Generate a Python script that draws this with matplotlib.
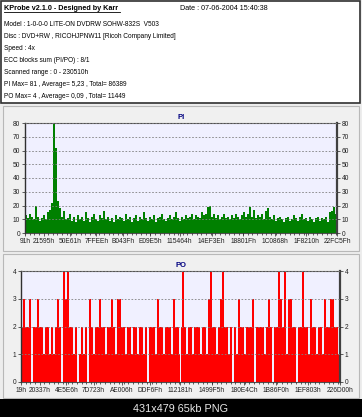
import numpy as np
import matplotlib.pyplot as plt
from matplotlib.patches import Rectangle
from matplotlib.lines import Line2D
from matplotlib.ticker import AutoMinorLocator

# header text
title = "KProbe v2.1.0 - Designed by Karr"
date_txt = "Date : 07-06-2004 15:40:38"
info_lines = [
    "Model : 1-0-0-0 LITE-ON DVDRW SOHW-832S  V503",
    "Disc : DVD+RW , RICOHJPNW11 [Ricoh Company Limited]",
    "Speed : 4x",
    "ECC blocks sum (PI/PO) : 8/1",
    "Scanned range : 0 - 230510h",
    "PI Max= 81 , Average= 5,23 , Total= 86389",
    "PO Max= 4 , Average= 0,09 , Total= 11449",
]
footer = "431x479 65kb PNG"

# PI chart
pi_ticks = ["91h", "21595h", "50E61h", "7FFEEh", "B043Fh", "E09E5h", "115464h",
            "14EF3Eh", "18801Fh", "1C0868h", "1F8210h", "22FC5Fh"]
pi_vals = [13, 11, 14, 12, 10, 20, 12, 9, 11, 13, 10, 15, 17, 22, 81, 62, 23,
           18, 12, 16, 10,
           11, 14, 9, 12, 8, 13, 10, 12, 9, 15, 11, 8, 12, 14, 10, 9, 13, 11, 16, 10,
           12, 9, 11, 8, 13, 10, 12, 11, 9, 14, 10, 12, 8, 11, 13, 9, 12, 10, 15, 11,
           9, 12, 10, 13, 8, 11, 12, 14, 10, 9, 11, 13, 10, 12, 15, 11, 9, 12, 10, 13,
           11, 12, 14, 10, 13, 12, 11, 15, 13, 14, 19, 20, 12, 14, 11, 13, 10, 12, 14, 11,
           12, 10, 13, 11, 14, 12, 10, 13, 15, 12, 14, 19, 12, 17, 11, 13, 12, 14, 10, 16,
           18, 12, 10, 13, 9, 11, 12, 10, 8, 11, 12, 9, 10, 13, 11, 9, 12, 14, 10, 11,
           9, 12, 10, 8, 11, 12, 9, 11, 10, 12, 8, 15, 16, 19, 14]

# PO chart
po_ticks = ["19h", "20337h", "4E5E6h", "7D723h", "AE006h", "DDF6Fh", "112181h",
            "1499F5h", "180E4Ch", "1B86F0h", "1EF803h", "226D00h"]
po_vals = [2, 3, 2, 2, 3, 0, 2, 2, 3, 2, 2, 1, 2, 2, 1, 2, 1, 2, 3, 2,
           0, 4, 3, 4, 2, 2, 1, 2, 0, 1, 2, 1, 2, 0, 3, 2, 1, 2, 2, 3,
           2, 2, 1, 2, 2, 3, 2, 1, 3, 3, 2, 2, 1, 2, 2, 1, 2, 2, 1, 2,
           2, 1, 2, 0, 2, 2, 2, 1, 3, 2, 2, 1, 2, 2, 2, 1, 3, 2, 2, 1,
           2, 4, 2, 1, 2, 2, 1, 2, 2, 2, 1, 2, 2, 1, 3, 4, 2, 2, 1, 2,
           3, 4, 2, 2, 1, 2, 0, 2, 1, 3, 2, 2, 1, 2, 2, 2, 3, 0, 2, 2,
           2, 2, 1, 2, 3, 2, 0, 2, 2, 4, 3, 2, 4, 1, 3, 3, 2, 2, 0, 2,
           2, 4, 2, 2, 1, 3, 2, 2, 1, 2, 2, 1, 3, 2, 2, 3, 3, 2, 2, 1]

W, H = 362, 417
FONT = "Liberation Sans"

def fx(px):
    return px / W

def fy(py):
    return 1 - py / H

fig = plt.figure(figsize=(W / 100, H / 100), dpi=100)
fig.patch.set_facecolor("#EDEDED")

# header box
fig.add_artist(Rectangle((fx(1), fy(103)), fx(359), 102 / H, transform=fig.transFigure,
                         facecolor="white", edgecolor="#303030", linewidth=1.2, zorder=-2))
fig.text(fx(4), fy(8), title, fontsize=5.2, fontweight="bold", family=FONT,
         va="center", ha="left")
fig.add_artist(Line2D([fx(4), fx(120)], [fy(12), fy(12)], transform=fig.transFigure,
                      color="black", linewidth=0.6))
fig.text(fx(180), fy(8), date_txt, fontsize=5.1, family=FONT, va="center", ha="left")
for i, line in enumerate(info_lines):
    fig.text(fx(4), fy(25 + 12 * i), line, fontsize=4.7, family=FONT, va="center", ha="left")

# panels
for top, bot in [(106, 251), (254, 398)]:
    fig.add_artist(Rectangle((fx(3), fy(bot)), fx(356), (bot - top) / H,
                             transform=fig.transFigure, facecolor="#F0F0F0",
                             edgecolor="#B8B8B8", linewidth=0.8, zorder=-2))

# footer
fig.add_artist(Rectangle((0, 0), 1, 18 / H, transform=fig.transFigure,
                         facecolor="black", edgecolor="none", zorder=-2))
fig.text(0.5, fy(409), footer, fontsize=7.8, family=FONT, color="#E8E8E8",
         ha="center", va="center")


def draw_chart(rect, vals, ticks, ymax, color, name):
    ax = fig.add_axes(rect)
    ax.set_facecolor("#F0F0FF")
    lo = int(ticks[0][:-1], 16)
    hi = int(ticks[-1][:-1], 16)
    n = len(vals)
    w = (hi - lo) / n
    x = lo + (np.arange(n) + 0.5) * w
    ax.bar(x, vals, width=w, color=color, linewidth=0)
    ax.set_xlim(lo, hi)
    ax.set_ylim(0, ymax)
    ax.set_xticks([int(t[:-1], 16) for t in ticks])
    ax.set_xticklabels(ticks)
    step = 10 if ymax > 10 else 1
    ax.set_yticks(np.arange(0, ymax + 1, step))
    ax.xaxis.set_minor_locator(AutoMinorLocator(4))
    ax.tick_params(axis="both", which="major", labelsize=4.8, length=2, width=0.5,
                   pad=1.5, colors="#202020")
    ax.tick_params(axis="x", which="minor", length=1.5, width=0.5, colors="#202020")
    ax.tick_params(axis="y", right=True, labelright=True)
    for lab in ax.get_xticklabels() + ax.get_yticklabels():
        lab.set_family(FONT)
    ax.yaxis.grid(True, linestyle=(0, (2, 2)), color="#808080", linewidth=0.6)
    ax.set_axisbelow(False)
    ax.spines["top"].set_linestyle((0, (2, 1)))
    ax.spines["top"].set_color("#505050")
    ax.spines["top"].set_linewidth(0.8)
    ax.spines["bottom"].set_color("#505050")
    ax.spines["bottom"].set_linewidth(0.8)
    ax.spines["left"].set_color("#303030")
    ax.spines["left"].set_linewidth(1.0)
    ax.spines["right"].set_color("#404040")
    ax.spines["right"].set_linewidth(1.6)
    ax.set_title(name, fontsize=5.5, fontweight="bold", color="#000080", family=FONT, pad=3)
    return ax


draw_chart([fx(25), fy(233), fx(312), 110 / H], pi_vals, pi_ticks, 80, "#008000", "PI")
draw_chart([fx(21), fy(382), fx(319), 111 / H], po_vals, po_ticks, 4, "#FF0000", "PO")

fig.savefig("out.png", dpi=100, facecolor=fig.get_facecolor())
